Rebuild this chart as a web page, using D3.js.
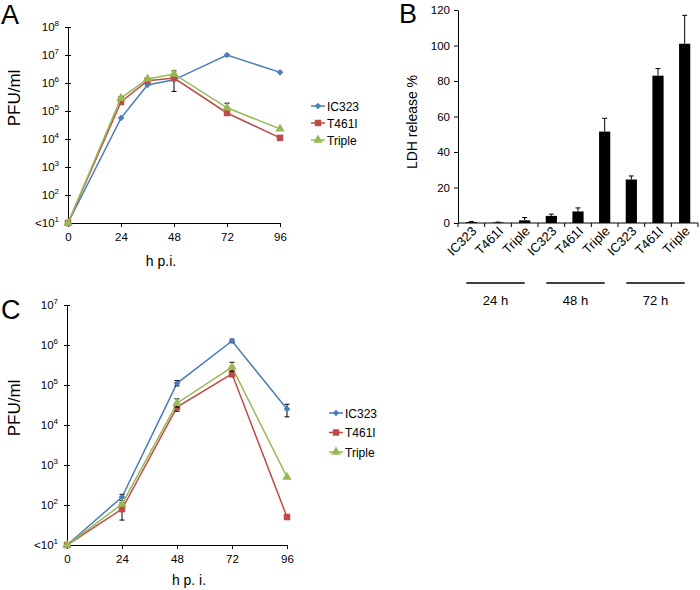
<!DOCTYPE html>
<html>
<head>
<meta charset="utf-8">
<script src="https://cdn.jsdelivr.net/npm/d3@7"></script>
<style>
  body { margin: 0; background: #fff; }
  text { font-family: "Liberation Sans", Arial, sans-serif; fill: #000; }
</style>
</head>
<body>
<svg id="fig" width="700" height="590"></svg>
<script>
// ---- Panel A data (PFU/ml, log scale) ----
const hoursA = [0, 24, 36, 48, 72, 96];
const ic323A = [10, 5.6e4, 8.5e5, 1.3e6, 1.0e7, 2.4e6];
const t461iA = [10, 2.1e5, 1.2e6, 1.5e6, 8.5e4, 1.1e4];
const tripleA = [10, 2.9e5, 1.4e6, 2.1e6, 1.3e5, 2.3e4];
// error bars as [hour, low, high]
const errIc323A = [[48, 5.0e5, 1.3e6]];
const errT461iA = [];
const errTripleA = [[24, 2.9e5, 3.3e5], [48, 2.1e6, 2.7e6], [72, 1.3e5, 1.9e5]];

// ---- Panel B data (LDH release %) ----
const strainsB = ["IC323", "T461I", "Triple"];
const timesB = ["24 h", "48 h", "72 h"];
const ldhMean = [0.5, 0.3, 1.5, 4, 6.5, 51.5, 24.5, 83, 101];
const ldhErr = [0.3, 0.2, 1.6, 1.0, 2.0, 7.5, 2.0, 4.0, 16];
const ldhTicks = [0, 20, 40, 60, 80, 100, 120];

// ---- Panel C data (PFU/ml, log scale) ----
const hoursC = [0, 24, 48, 72, 96];
const ic323C = [10, 158, 1.1e5, 1.26e6, 2.5e4];
const t461iC = [10, 79, 2.8e4, 1.9e5, 50];
const tripleC = [10, 105, 3.5e4, 2.8e5, 500];
const errIc323C = [[24, 130, 185], [48, 9.5e4, 1.3e5], [72, 1.15e6, 1.4e6], [96, 1.6e4, 3.3e4]];
const errT461iC = [[24, 42, 115], [48, 2.2e4, 3.4e4], [72, 1.6e5, 2.2e5]];
const errTripleC = [[48, 2.8e4, 4.5e4], [72, 2.2e5, 3.7e5]];

const hourTicks = [0, 24, 48, 72, 96];

const colors = { IC323: "#4a7ebb", T461I: "#be4b48", Triple: "#98b954" };
const shapes = { IC323: "diamond", T461I: "square", Triple: "triangle" };

const svg = d3.select("#fig");

// draws a marker at (0,0) inside the selection
function marker(g, name) {
  const c = colors[name];
  if (shapes[name] === "diamond") {
    g.append("path").attr("d", d3.symbol(d3.symbolSquare, 22)())
      .attr("transform", "rotate(45)").attr("fill", c);
  } else if (shapes[name] === "square") {
    g.append("path").attr("d", d3.symbol(d3.symbolSquare, 42)()).attr("fill", c);
  } else {
    g.append("path").attr("d", d3.symbol(d3.symbolTriangle, 38)()).attr("fill", c);
  }
}

function powLabel(d) {
  const t = d3.select(this);
  const e = Math.round(Math.log10(d));
  t.text(null);
  t.append("tspan").text(e === 1 ? "<10" : "10");
  t.append("tspan").attr("dy", -5).attr("font-size", 8).text(e);
}

function logPanel(o) {
  const x = d3.scaleLinear().domain([0, 96]).range(o.xRange);
  const y = d3.scaleLog().domain(o.yDomain).range(o.yRange);

  // y axis with crossing ticks
  const ya = svg.append("g")
    .attr("transform", `translate(${o.xRange[0]},0)`)
    .call(d3.axisLeft(y).tickValues(o.yTicks).tickSize(3).tickSizeOuter(0).tickPadding(6).tickFormat(""));
  ya.selectAll(".tick line").attr("x1", 3);
  ya.selectAll(".tick text").attr("font-size", 11.5).each(powLabel);

  // x axis
  const xa = svg.append("g")
    .attr("transform", `translate(0,${o.yRange[0]})`)
    .call(d3.axisBottom(x).tickValues(hourTicks).tickSize(4).tickSizeOuter(0).tickPadding(6));
  xa.selectAll(".tick text").attr("font-size", 11.5);
  svg.selectAll(".domain, .tick line").attr("stroke", "#000");

  // axis titles
  svg.append("text")
    .attr("transform", `translate(${o.yTitle[0]},${o.yTitle[1]}) rotate(-90)`)
    .attr("text-anchor", "middle").attr("font-size", 17)
    .text("PFU/ml");
  svg.append("text")
    .attr("x", o.xTitle[0]).attr("y", o.xTitle[1])
    .attr("text-anchor", "middle").attr("font-size", 14)
    .text(o.xLabel);

  const line = d3.line().x(d => x(d[0])).y(d => y(d[1]));

  o.series.forEach(s => {
    const pts = o.hours.map((h, i) => [h, s.values[i]]);
    svg.append("path").datum(pts)
      .attr("d", line).attr("fill", "none")
      .attr("stroke", colors[s.name]).attr("stroke-width", 1.5);

    // error bars
    s.err.forEach(e => {
      const eg = svg.append("g").attr("stroke", "#000").attr("stroke-width", 1);
      eg.append("line").attr("x1", x(e[0])).attr("x2", x(e[0]))
        .attr("y1", y(e[1])).attr("y2", y(e[2]));
      [e[1], e[2]].forEach(v => {
        eg.append("line").attr("x1", x(e[0]) - 2.5).attr("x2", x(e[0]) + 2.5)
          .attr("y1", y(v)).attr("y2", y(v));
      });
    });

    pts.forEach(p => {
      const mg = svg.append("g").attr("transform", `translate(${x(p[0])},${y(p[1])})`);
      marker(mg, s.name);
    });
  });

  // legend
  o.series.forEach((s, i) => {
    const lg = svg.append("g")
      .attr("transform", `translate(${o.legend[0]},${o.legend[1] + i * o.legend[2]})`);
    lg.append("line").attr("x1", 0).attr("x2", 14)
      .attr("stroke", colors[s.name]).attr("stroke-width", 1.5);
    const mg = lg.append("g").attr("transform", "translate(7,0)");
    marker(mg, s.name);
    lg.append("text").attr("x", 16).attr("y", 4.5)
      .attr("font-size", 12).text(s.name);
  });
}

// ---- Panel A ----
logPanel({
  xRange: [68, 280], yRange: [223, 27],
  yDomain: [10, 1e8], yTicks: [10, 1e2, 1e3, 1e4, 1e5, 1e6, 1e7, 1e8],
  hours: hoursA,
  series: [
    { name: "IC323", values: ic323A, err: errIc323A },
    { name: "T461I", values: t461iA, err: errT461iA },
    { name: "Triple", values: tripleA, err: errTripleA }
  ],
  yTitle: [20, 98], xTitle: [161, 266], xLabel: "h p.i.",
  legend: [311, 106, 17]
});

// ---- Panel C ----
logPanel({
  xRange: [67, 287], yRange: [545, 305],
  yDomain: [10, 1e7], yTicks: [10, 1e2, 1e3, 1e4, 1e5, 1e6, 1e7],
  hours: hoursC,
  series: [
    { name: "IC323", values: ic323C, err: errIc323C },
    { name: "T461I", values: t461iC, err: errT461iC },
    { name: "Triple", values: tripleC, err: errTripleC }
  ],
  yTitle: [20, 408], xTitle: [189, 585], xLabel: "h p. i.",
  legend: [329, 413, 19.5]
});

// ---- Panel B ----
const cats = [];
timesB.forEach(t => strainsB.forEach(s => cats.push({ time: t, strain: s, key: t + "|" + s })));
cats.forEach((c, i) => { c.mean = ldhMean[i]; c.err = ldhErr[i]; });

const xB = d3.scaleBand().domain(cats.map(c => c.key)).range([458, 698]).paddingInner(0.58).paddingOuter(0.29);
const yB = d3.scaleLinear().domain([0, 120]).range([223, 10]);

const yaB = svg.append("g").attr("transform", "translate(458,0)")
  .call(d3.axisLeft(yB).tickValues(ldhTicks).tickSize(4).tickSizeOuter(0).tickPadding(4));
yaB.selectAll(".tick text").attr("font-size", 11.5);

const xaB = svg.append("g").attr("transform", "translate(0,223)");
xaB.append("line").attr("x1", 458).attr("x2", 698).attr("stroke", "#000");
// category boundary ticks
d3.range(cats.length + 1).forEach(i => {
  const bx = 458 + i * xB.step();
  xaB.append("line").attr("x1", bx).attr("x2", bx).attr("y1", 0).attr("y2", 4).attr("stroke", "#000");
});
svg.selectAll(".domain, .tick line").attr("stroke", "#000");

// bars
svg.selectAll(".bar").data(cats).enter().append("rect")
  .attr("class", "bar")
  .attr("x", d => xB(d.key))
  .attr("y", d => yB(d.mean))
  .attr("width", xB.bandwidth())
  .attr("height", d => yB(0) - yB(d.mean))
  .attr("fill", "#000");

// error bars (upper only)
cats.forEach(d => {
  const cx = xB(d.key) + xB.bandwidth() / 2;
  svg.append("line").attr("x1", cx).attr("x2", cx)
    .attr("y1", yB(d.mean)).attr("y2", yB(d.mean + d.err)).attr("stroke", "#000");
  svg.append("line").attr("x1", cx - 2.5).attr("x2", cx + 2.5)
    .attr("y1", yB(d.mean + d.err)).attr("y2", yB(d.mean + d.err)).attr("stroke", "#000");
});

// rotated category labels
cats.forEach(d => {
  const cx = xB(d.key) + xB.bandwidth() / 2;
  svg.append("text")
    .attr("transform", `translate(${cx + 6},${232}) rotate(-45)`)
    .attr("text-anchor", "end").attr("font-size", 13)
    .text(d.strain);
});

// group lines and labels
timesB.forEach(t => {
  const first = xB(t + "|" + strainsB[0]) + xB.bandwidth() / 2 - 5;
  const last = xB(t + "|" + strainsB[strainsB.length - 1]) + xB.bandwidth() / 2;
  svg.append("line").attr("x1", first).attr("x2", last)
    .attr("y1", 283).attr("y2", 283).attr("stroke", "#000").attr("stroke-width", 1.5);
  svg.append("text").attr("x", (first + last) / 2).attr("y", 305)
    .attr("text-anchor", "middle").attr("font-size", 13).text(t);
});

svg.append("text")
  .attr("transform", "translate(417,122) rotate(-90)")
  .attr("text-anchor", "middle").attr("font-size", 14)
  .text("LDH release %");

// panel letters
svg.append("text").attr("x", 1).attr("y", 24).attr("font-size", 27).text("A");
svg.append("text").attr("x", 399).attr("y", 23).attr("font-size", 27).text("B");
svg.append("text").attr("x", 1).attr("y", 319).attr("font-size", 27).text("C");
</script>
</body>
</html>
